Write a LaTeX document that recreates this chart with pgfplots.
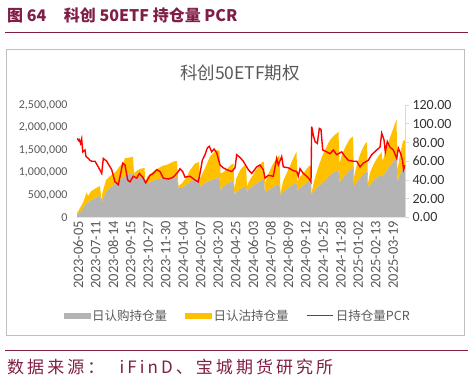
\documentclass[border=0pt]{standalone}
\usepackage{pgfplots}
\pgfplotsset{compat=1.18}
\usepackage{pgfplotstable}
\usepackage{fontspec}
\setmainfont{Carlito}
\newfontfamily\cjk{Noto Sans CJK SC}
\newfontfamily\cjkspaced[LetterSpace=18]{Noto Sans CJK SC}
\definecolor{maroon}{RGB}{128,30,70}
\definecolor{callgray}{RGB}{180,180,180}
\definecolor{putyellow}{RGB}{255,192,0}
\definecolor{txtgray}{RGB}{89,89,89}
\definecolor{axgray}{RGB}{217,217,217}
\definecolor{pcrred}{RGB}{255,0,0}
\pgfplotsset{
  graylegend/.style={legend image code/.code={\fill[callgray] (0pt,-2.5pt) rectangle (26pt,2.5pt);}},
  yellowlegend/.style={legend image code/.code={\fill[putyellow] (0pt,-2.5pt) rectangle (26pt,2.5pt);}},
  redlegend/.style={legend image code/.code={\draw[pcrred, line width=1.4pt] (0pt,0pt) -- (26pt,0pt);}},
}

\pgfplotstableread{
x call put
77 50000 42000
80 120000 90000
83 200000 130000
85 260000 190000
86.5 300000 260000
88 330000 150000
91 380000 200000
95 430000 210000
100 490000 210000
101.5 350000 30000
102.5 380000 180000
106 560000 270000
110 650000 270000
116 760000 260000
120 830000 320000
123 880000 320000
125 920000 400000
129 960000 370000
133 980000 370000
134 880000 110000
137 890000 150000
140 900000 180000
144.5 900000 200000
145.5 720000 40000
147 760000 140000
152 800000 200000
157 850000 230000
163 870000 280000
168 880000 300000
173 890000 350000
177 880000 380000
178.5 650000 50000
182 660000 100000
186 720000 160000
190 780000 270000
195 860000 340000
199 880000 350000
200 680000 200000
202 720000 230000
206 780000 370000
210 820000 530000
214 850000 600000
217 870000 630000
219.5 880000 600000
220.5 620000 370000
223 680000 320000
227 740000 340000
231 800000 370000
233.5 810000 390000
234.5 500000 120000
236 550000 300000
240 620000 430000
244 680000 470000
246 690000 480000
247 570000 120000
249 620000 180000
253 700000 250000
258 780000 340000
262 830000 400000
264 840000 400000
265 540000 220000
268 600000 350000
272 660000 490000
276 720000 580000
279.5 730000 650000
280.5 500000 40000
283 560000 240000
287 640000 360000
291 700000 500000
295 760000 640000
296.5 770000 680000
297.5 610000 190000
300 650000 250000
304 720000 280000
308 800000 320000
310.5 830000 340000
311.5 520000 20000
314 580000 220000
318 680000 420000
322 760000 590000
326 840000 710000
330 940000 780000
334 1000000 820000
338.5 1050000 850000
339.5 780000 420000
342 850000 550000
346 950000 650000
350 1050000 700000
353 1100000 700000
354 700000 200000
356 760000 340000
360 880000 520000
364 980000 620000
367 1020000 660000
368 680000 80000
370 720000 280000
374 820000 380000
378 900000 450000
381.5 950000 500000
382.5 900000 350000
384 950000 400000
388 1080000 570000
392 1200000 700000
396.5 1350000 830000
397.5 800000 250000
400 950000 450000
403 1080000 620000
405 1100000 620000
}\oitable

\pgfplotstableread{
x pcr
77.3 84.5
78.5 82
79.3 83
80.5 79
81.7 84
82.7 70
85 72
86 65
88.3 63
90 61
91.7 60
95 60
98.3 54
101.7 47
103.3 63
106.7 60
111.7 51
115 38
118.3 35
120.7 47
122.7 58
125 56
127.7 40
130 38
133.3 44
136.7 42
139.3 47
142.7 43
145.7 37
150 45
153.3 47
156.7 51
160 49
163.3 42
168.3 41
173.3 43
178.3 49
180 52
182.7 49
185 43
190 44
195 40
198.3 38
200.7 51
202.3 61
205 67
207.3 74
209.3 76
211.7 70
214 73
216.7 69
220 56
223.3 53
226.7 51
231.7 49
235 53
236.7 67
240 64
243.3 60
248.3 51
251.7 47
256.7 54
260 56
263.3 51
265 42
268.3 45
273.3 44
276.7 63
278.3 56
281.7 65
283.3 54
288.3 53
293.3 50
296.7 49
298.3 44
300 52
303.3 47
306.7 44
310 40
311 38
311.7 97
313.3 88
315 81
317.3 79
319.3 95
321 94
322.7 72
326.7 70
330 68
333.3 72
336.7 67
341.7 70
345 65
348.3 61
353.3 60
356.7 60
360 54
363.3 58
368.3 61
371.7 67
376.7 72
380 75
381.7 90
384 83
385.3 70
387.3 81
390 75
393.3 72
396.7 63
398.3 74
400.7 68
402.7 60
403.5 51
405 56
}\pcrtable

\begin{document}
\begin{tikzpicture}[x=1pt,y=1pt]
\path[use as bounding box] (0,0) rectangle (474,382);
\node[anchor=west, inner sep=0, text=maroon, font=\cjk\bfseries\fontsize{16}{16}\selectfont] at (7,366.5) {图 64\hspace{1.1em}科创 50ETF 持仓量 PCR};
\draw[maroon, line width=1pt] (5,349.7) -- (468,349.7);
\draw[gray!50, line width=0.8pt] (6.7,47) rectangle (464.3,332.7);
\draw[maroon, line width=1pt] (5,31) -- (468,31);
\node[anchor=west, inner sep=0, text=maroon, font=\cjkspaced\fontsize{17}{17}\selectfont] at (7,14.5) {数据来源：\hspace{0.9em}iFinD、宝城期货研究所};
\node[text=txtgray, font=\cjk\fontsize{17.5}{17.5}\selectfont] at (240,309) {科创50ETF期权};

\begin{axis}[
  at={(77pt,164.5pt)}, anchor=south west, scale only axis,
  width=328pt, height=112.5pt,
  xmin=77, xmax=405, ymin=0, ymax=2500000,
  stack plots=y,
  axis line style={draw=none},
  major tick length=0pt,
  scaled y ticks=false,
  ytick={0,500000,1000000,1500000,2000000,2500000},
  yticklabel style={font=\fontsize{12}{12}\selectfont, text=txtgray, xshift=-6pt},
  xtick={78.3,95.8,113.3,130.8,148.3,165.8,183.3,200.8,218.3,235.8,253.3,270.8,288.3,305.8,323.3,340.8,358.3,375.8,393.3},
  xticklabels={2023-06-05,2023-07-11,2023-08-14,2023-09-15,2023-10-27,2023-11-30,2024-01-04,2024-02-07,2024-03-20,2024-04-25,2024-06-03,2024-07-08,2024-08-09,2024-09-12,2024-10-25,2024-11-28,2025-01-02,2025-02-13,2025-03-19},
  xticklabel style={rotate=90, anchor=east, font=\fontsize{14.5}{14.5}\selectfont, text=txtgray},
  yticklabel style={/pgf/number format/.cd, fixed, 1000 sep={,}, assume math mode=true},
]
\addplot[fill=callgray, draw=none] table[x=x,y=call]{\oitable} \closedcycle;
\addplot[fill=putyellow, draw=none] table[x=x,y=put]{\oitable} \closedcycle;
\end{axis}

\begin{axis}[
  at={(77pt,164.5pt)}, anchor=south west, scale only axis,
  width=328pt, height=112.5pt,
  xmin=77, xmax=405, ymin=0, ymax=120,
  axis y line*=right, axis x line=none,
  y axis line style={draw=axgray, line width=0.8pt},
  ytick={0,20,40,60,80,100,120},
  tick align=outside, major tick length=4pt,
  ytick style={draw=axgray, line width=0.8pt},
  yticklabel style={font=\fontsize{14}{14}\selectfont, text=black!80, /pgf/number format/.cd, fixed, fixed zerofill, precision=2, assume math mode=true},
  legend style={at={(0.49,-0.873)}, anchor=center, draw=none, fill=none,
    font=\cjk\fontsize{12.5}{12.5}\selectfont, text=txtgray, legend columns=3,
    /tikz/every even column/.append style={column sep=16pt}},
]
\addlegendimage{graylegend}
\addlegendentry{日认购持仓量}
\addlegendimage{yellowlegend}
\addlegendentry{日认沽持仓量}
\addplot[pcrred, line width=1.4pt, mark=none, redlegend] table[x=x,y=pcr]{\pcrtable};
\addlegendentry{日持仓量PCR}
\end{axis}
\end{tikzpicture}
\end{document}
